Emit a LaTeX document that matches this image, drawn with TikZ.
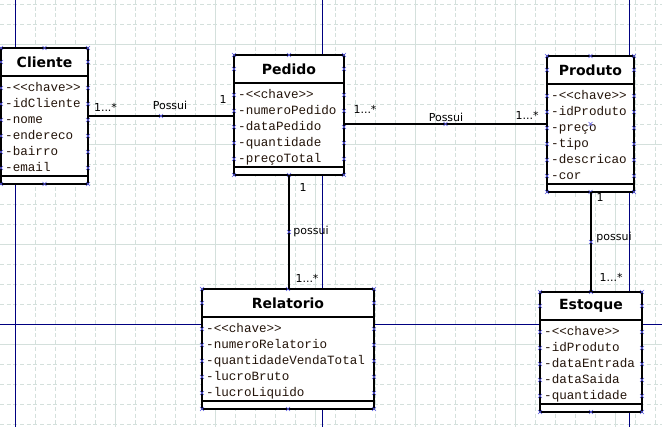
\documentclass[tikz,border=0pt]{standalone}
\usepackage{fontspec}
\usetikzlibrary{calc}
\newfontfamily\attrfont{Liberation Mono}
\newfontfamily\labelfont{DejaVu Sans}
\newfontfamily\titlefont{DejaVu Sans}
\definecolor{gridcol}{RGB}{212,224,220}
\definecolor{pagecol}{RGB}{0,0,128}
\definecolor{handlecol}{RGB}{90,90,230}
\definecolor{attrcol}{RGB}{35,20,10}

\tikzset{
  hx/.pic={\draw[handlecol, line width=0.6pt] (-2,-2) -- (2,2) (-2,2) -- (2,-2);}
}

% UML class: #1 name, #2 left, #3 top, #4 right, #5 attribute count, #6 title, #7 attributes
\newcommand{\umlclass}[7]{%
  \pgfmathsetmacro\cbw{#4-#2}%
  \pgfmathsetmacro\cbh{40+16*#5}%
  \pgfmathsetmacro\cbs{32+16*#5}%
  \node[classbox, minimum width=\cbw pt, minimum height=\cbh pt] (#1) at (#2,#3) {};
  \draw[sepline] ([yshift=-28pt]#1.north west) -- ([yshift=-28pt]#1.north east);
  \draw[sepline] ([yshift=-\cbs pt]#1.north west) -- ([yshift=-\cbs pt]#1.north east);
  \node[titletext] (#1-title) at ([yshift=-14pt]#1.north) {#6};
  \foreach \a [count=\i] in {#7} {
    \node[attr] (#1-a\i) at ($(#1.north west)+(4,28+16*\i)$) {\a};
  }
  % selection handles
  \foreach \p in {north west,north,north east,south west,south,south east}
    \pic at (#1.\p) {hx};
  \pic at ([yshift=-14pt]#1.north west) {hx};
  \pic at ([yshift=-14pt]#1.north east) {hx};
  \foreach \i in {1,...,#5} {
    \pic at ($(#1.north west)+(0,24+16*\i)$) {hx};
    \pic at ($(#1.north east)+(0,24+16*\i)$) {hx};
  }
}

\begin{document}
\begin{tikzpicture}[x=1pt,y=-1pt,
  gridminor/.style={draw=gridcol, line width=0.8pt, dash pattern=on 4pt off 2.67pt},
  gridmajor/.style={draw=gridcol, line width=0.9pt},
  pageline/.style={draw=pagecol, line width=1pt},
  classbox/.style={draw=black, fill=white, line width=2.6pt, rectangle, inner sep=0pt, outer sep=0pt, anchor=north west},
  sepline/.style={draw=black, line width=2.6pt},
  link/.style={draw=black, line width=2.4pt},
  titletext/.style={font=\titlefont\bfseries\fontsize{14}{16}\selectfont, inner sep=0pt},
  attr/.style={font=\attrfont\fontsize{12.6}{16}\selectfont, anchor=base west, inner sep=0pt, text=attrcol},
  mult/.style={font=\labelfont\fontsize{11}{13}\selectfont, inner sep=0pt},
]
\useasboundingbox (0,0) rectangle (662,427);
\fill[white] (0,0) rectangle (662,427);

% background grid
\foreach \x in {15,35,...,655} \draw[gridminor] (\x,0) -- (\x,427);
\foreach \y in {4,24,...,424} \draw[gridminor] (0,\y) -- (662,\y);
\foreach \x in {15,115,...,615} \draw[gridmajor] (\x,0) -- (\x,427);
\foreach \y in {44,144,244,344} \draw[gridmajor] (0,\y) -- (662,\y);

% page boundaries
\foreach \x in {15,322,629} \draw[pageline] (\x,0) -- (\x,427);
\draw[pageline] (0,325) -- (662,325);

% classes
\umlclass{cliente}{1}{48}{88}{6}{Cliente}{-<<chave>>,-idCliente,-nome,-endereco,-bairro,-email}
\umlclass{pedido}{234}{55}{344}{5}{Pedido}{-<<chave>>,-numeroPedido,-dataPedido,-quantidade,-preçoTotal}
\umlclass{produto}{547}{56}{634}{6}{Produto}{-<<chave>>,-idProduto,-preço,-tipo,-descricao,-cor}
\umlclass{relatorio}{202}{289}{374}{5}{Relatorio}{-<<chave>>,-numeroRelatorio,-quantidadeVendaTotal,-lucroBruto,-lucroLiquido}
\umlclass{estoque}{540}{292}{642}{5}{Estoque}{-<<chave>>,-idProduto,-dataEntrada,-dataSaida,-quantidade}
\pic at (produto.center) {hx};

% associations
\draw[link] (cliente.east) -- (cliente.east -| pedido.west) coordinate[midway] (m1);
\draw[link] (produto.west -| pedido.east) -- (produto.west) coordinate[midway] (m2);
\draw[link] (pedido.south) -- (pedido.south |- relatorio.north) coordinate[midway] (m3);
\draw[link] (estoque.north |- produto.south) -- (estoque.north) coordinate[midway] (m4);
\foreach \m in {m1,m2,m3,m4} \pic at (\m) {hx};

% multiplicities and association names
\node[mult] (l1a) at (105.5,107) {1...*};
\node[mult] (l1b) at (170,105) {Possui};
\node[mult] (l1c) at (223,99) {1};
\node[mult] (l2a) at (365,109) {1...*};
\node[mult] (l2b) at (446,117) {Possui};
\node[mult] (l2c) at (527,115) {1...*};
\node[mult] (l3a) at (303,187) {1};
\node[mult] (l3b) at (311,231) {possui};
\node[mult] (l3c) at (307,278) {1...*};
\node[mult] (l4a) at (600,197) {1};
\node[mult] (l4b) at (614,237) {possui};
\node[mult] (l4c) at (611,277) {1...*};
\end{tikzpicture}
\end{document}
